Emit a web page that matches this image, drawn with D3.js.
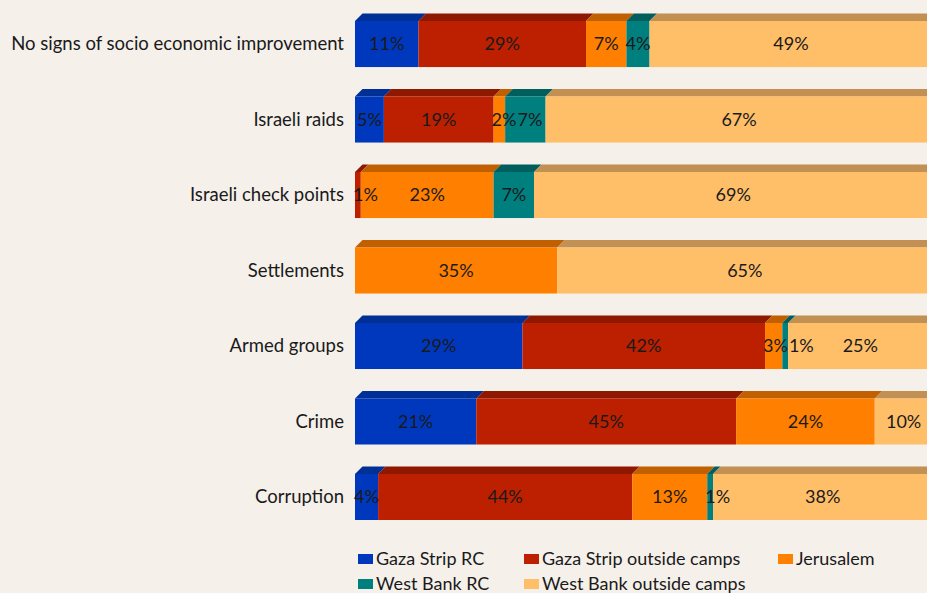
<!DOCTYPE html>
<html>
<head>
<meta charset="utf-8">
<script src="https://cdn.jsdelivr.net/npm/d3@7"></script>
<style>
  body { margin: 0; background: #f5f0ea; }
  svg { display: block; font-family: Lato, "Open Sans", sans-serif; }
</style>
</head>
<body>
<div id="chart"></div>
<script>
// DATA ----------------------------------------------
const categories = [
  "No signs of socio economic improvement",
  "Israeli raids",
  "Israeli check points",
  "Settlements",
  "Armed groups",
  "Crime",
  "Corruption"
];
const seriesNames = ["Gaza Strip RC", "Gaza Strip outside camps", "Jerusalem", "West Bank RC", "West Bank outside camps"];
const gazaRC = [11, 5, 0, 0, 29, 21, 4];
const gazaOutside = [29, 19, 1, 0, 42, 45, 44];
const jerusalem = [7, 2, 23, 35, 3, 24, 13];
const westBankRC = [4, 7, 7, 0, 1, 0, 1];
const westBankOutside = [49, 67, 69, 65, 25, 10, 38];

const frontColors = ["#0038bd", "#bd2000", "#ff8000", "#007f7f", "#ffbf69"];
const topColors = ["#002f95", "#8e1800", "#c06000", "#005f5c", "#c29052"];

const width = 927, height = 593, depth = 7.5;

const table = categories.map((c, i) => ({
  name: c,
  values: [gazaRC[i], gazaOutside[i], jerusalem[i], westBankRC[i], westBankOutside[i]]
}));

const x = d3.scaleLinear().domain([0, 100]).range([355, 932.5]);
const y = d3.scaleBand().domain(categories).range([21, 520]).paddingInner(0.39).paddingOuter(0);

const svg = d3.select("#chart").append("svg")
  .attr("width", width)
  .attr("height", height);

svg.append("rect").attr("width", width).attr("height", height).attr("fill", "#f5f0ea");

// bars
table.forEach((row) => {
  let acc = 0;
  const segs = row.values.map((v, k) => {
    const s = { k: k, v: v, x0: acc, x1: acc + v };
    acc += v;
    return s;
  }).filter((s) => s.v > 0);

  const g = svg.append("g");
  const y0 = y(row.name), bh = y.bandwidth();

  segs.forEach((s) => {
    const a = x(s.x0), b = x(s.x1);
    g.append("path")
      .attr("d", "M" + a + "," + y0 + "L" + (a + depth) + "," + (y0 - depth) +
        "L" + (b + depth) + "," + (y0 - depth) + "L" + b + "," + y0 + "Z")
      .attr("fill", topColors[s.k]);
    g.append("rect")
      .attr("x", a)
      .attr("y", y0)
      .attr("width", b - a)
      .attr("height", bh)
      .attr("fill", frontColors[s.k]);
  });

  // labels: centred, but kept off the left edge and off the previous label
  let lastEnd = -Infinity;
  segs.forEach((s) => {
    const t = g.append("text")
      .attr("y", y0 + bh / 2)
      .attr("dy", "0.35em")
      .attr("font-size", 18)
      .attr("fill", "#1a1a1a")
      .text(s.v + "%");
    const w = t.node().getComputedTextLength();
    let start = (x(s.x0) + x(s.x1)) / 2 - w / 2;
    start = Math.max(start, x(s.x0) - 2, lastEnd + 1);
    t.attr("x", start);
    lastEnd = start + w;
  });
});

// category labels
svg.append("g")
  .selectAll("text")
  .data(categories)
  .enter()
  .append("text")
  .attr("x", 344)
  .attr("y", (d) => y(d) + y.bandwidth() / 2)
  .attr("dy", "0.35em")
  .attr("text-anchor", "end")
  .attr("font-size", 18.5)
  .attr("fill", "#1a1a1a")
  .text((d) => d);

// legend
const legendPos = [[358, 559], [524, 559], [778, 559], [358, 584], [524, 584]];
const legend = svg.append("g")
  .selectAll("g")
  .data(seriesNames)
  .enter()
  .append("g")
  .attr("transform", (d, i) => "translate(" + legendPos[i][0] + "," + legendPos[i][1] + ")");

legend.append("rect")
  .attr("x", 0)
  .attr("y", -5)
  .attr("width", 15)
  .attr("height", 10)
  .attr("fill", (d, i) => frontColors[i]);

legend.append("text")
  .attr("x", 18)
  .attr("y", 0)
  .attr("dy", "0.35em")
  .attr("font-size", 18)
  .attr("fill", "#1a1a1a")
  .text((d) => d);
</script>
</body>
</html>
